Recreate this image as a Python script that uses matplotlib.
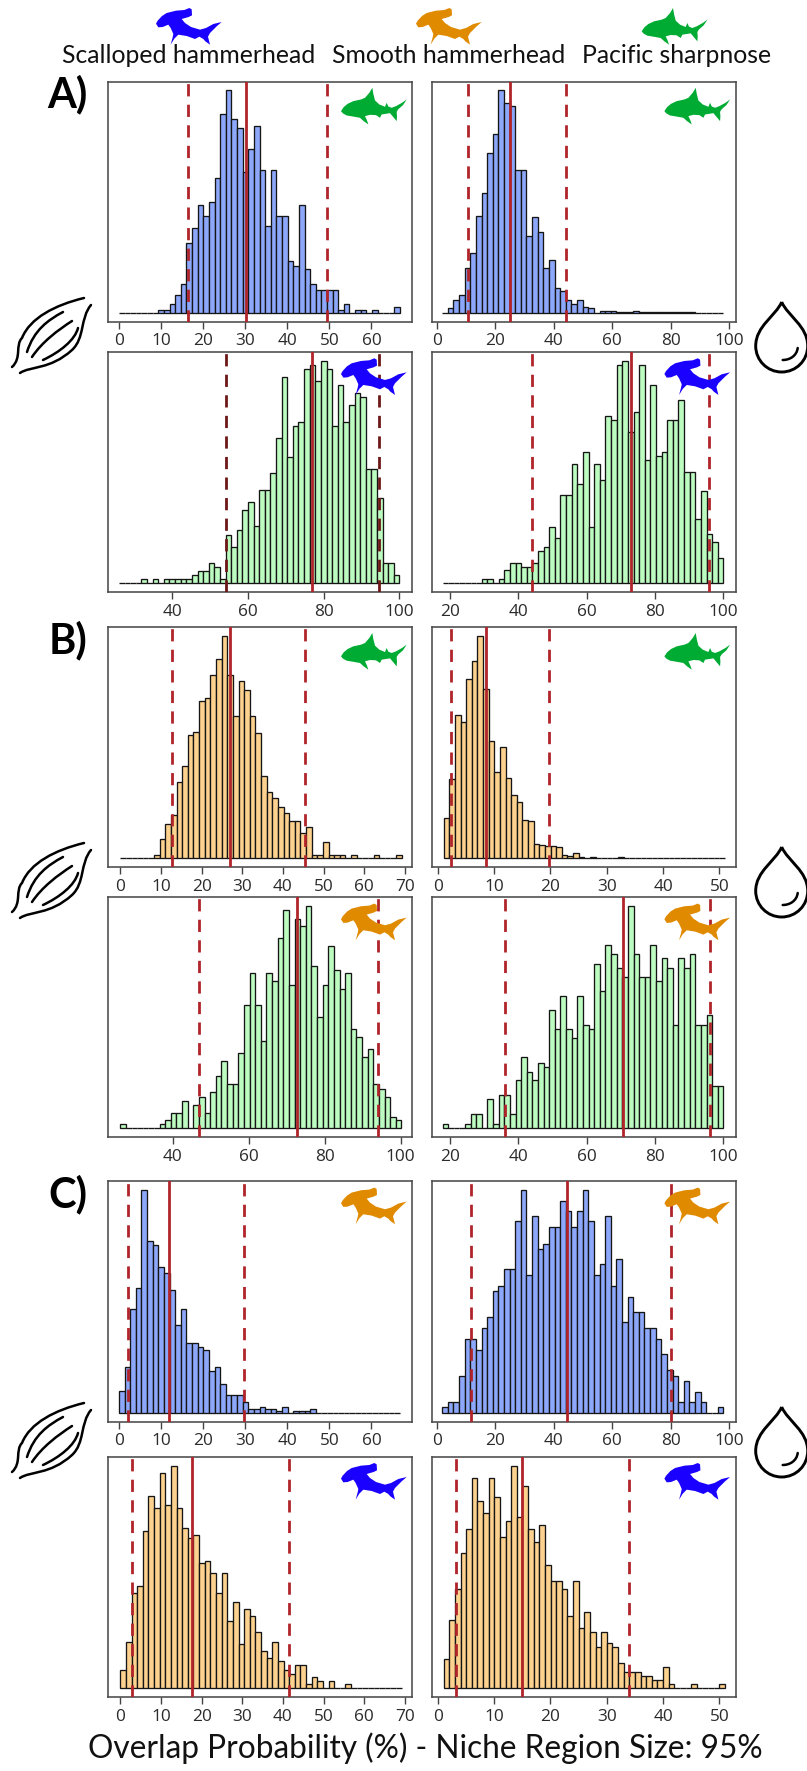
import numpy as np
import matplotlib
matplotlib.use("Agg")
import matplotlib.pyplot as plt
from matplotlib.path import Path
from matplotlib.patches import PathPatch

W, H = 807, 1771

# ---------------- data: bar heights of every histogram (50 bins, relative frequency) ----------------
a1_counts = [0,0,0,0,0,0,0,9,9,25,53,85,207,252,321,289,329,402,594,663,577,550,419,487,557,427,260,427,289,289,
             155,139,320,132,85,69,69,69,69,9,25,0,9,9,0,9,0,0,0,17]
a2_counts = [0,0,0,0,11,0,11,0,11,11,11,11,11,24,36,36,60,48,11,145,109,158,219,243,170,279,279,329,435,617,
             378,471,484,642,655,606,666,642,471,593,484,533,569,557,341,341,256,60,60,24]
a3_counts = [0,13,38,53,135,178,289,358,476,534,664,627,618,427,427,228,285,240,135,159,73,65,37,25,37,17,13,0,5,5,
             5,2,2,2,5,2,2,2,2,2,2,2,2,2,2,0,0,0,0,0]
a4_counts = [0,0,0,0,0,0,0,13,13,0,13,39,61,61,49,49,61,98,110,168,135,265,265,359,298,395,168,359,310,501,
             490,656,668,453,513,656,371,595,383,395,490,490,550,334,334,193,277,147,123,74]
b1_counts = [0,0,0,0,0,0,8,57,102,127,228,273,367,375,469,476,545,594,663,545,423,529,501,423,374,245,196,180,151,135,
             110,110,74,94,8,8,49,8,8,8,0,8,0,0,0,8,0,0,0,8]
b2_counts = [119,235,427,406,533,586,663,504,349,256,330,239,188,167,114,110,41,39,35,36,32,8,5,16,4,0,4,0,0,0,
             0,4,0,0,0,0,0,0,0,0,0,0,0,0,0,0,0,0,0,0]
b3_counts = [13,0,0,0,0,0,0,13,25,45,45,82,0,70,94,45,107,156,200,131,131,225,367,465,367,261,465,440,570,652,
             428,627,606,664,485,331,428,545,473,416,464,298,273,212,236,131,118,94,34,25]
b4_counts = [12,0,0,0,12,41,41,0,86,12,98,98,41,143,213,167,143,196,184,355,298,395,298,269,395,310,298,493,412,550,
             521,481,452,665,521,452,452,550,440,509,481,310,509,481,523,310,310,338,127,127]
c1_counts = [65,138,309,371,664,513,500,436,418,366,261,309,208,208,196,188,126,138,85,53,53,53,33,12,12,16,12,12,4,16,
             0,4,4,4,12,0,0,0,0,0,0,0,0,0,0,0,0,0,0,0]
c2_counts = [16,32,32,110,219,219,187,252,285,362,378,427,427,570,663,410,585,488,504,553,553,631,602,553,602,663,570,410,443,585,
             378,459,269,346,301,301,252,252,219,174,127,110,32,94,32,61,32,0,0,16]
c3_counts = [54,139,285,306,473,578,541,647,549,668,541,481,452,460,375,383,346,285,346,200,257,131,237,217,168,111,90,139,82,54,
             41,69,69,13,33,21,0,21,0,0,12,0,0,0,0,0,0,0,0,0]
c4_counts = [86,204,297,407,477,631,563,526,631,574,453,501,668,513,608,477,440,489,371,322,322,298,216,322,180,228,167,123,167,135,
             123,74,49,49,49,37,37,25,25,62,12,0,0,0,12,0,0,0,0,12]

# histogram ranges (first and last bin edge)
a1_range, a2_range, a3_range, a4_range = (0, 66.8), (26.0, 100), (1.9, 98), (17.9, 100)
b1_range, b2_range, b3_range, b4_range = (0, 69.2), (1.06, 51), (26.1, 100.2), (17.9, 100)
c1_range, c2_range, c3_range, c4_range = (0, 66.8), (1.9, 98), (0, 69.2), (1.06, 51)

# quantile lines: lower dashed, solid mean, upper dashed
a1_lines, a2_lines, a3_lines, a4_lines = (16.4, 30.2, 49.4), (54.25, 76.9, 94.7), (10.7, 25.1, 44.1), (44.2, 73.1, 95.7)
b1_lines, b2_lines, b3_lines, b4_lines = (12.6, 27.05, 45.4), (2.3, 8.6, 19.7), (46.85, 72.6, 94.1), (36.2, 70.8, 96.1)
c1_lines, c2_lines, c3_lines, c4_lines = (2.2, 11.9, 29.7), (11.6, 44.7, 80.0), (2.95, 17.7, 41.6), (3.2, 15.0, 34.0)

# tick values
ticks_60 = [0, 10, 20, 30, 40, 50, 60]
ticks_70 = [0, 10, 20, 30, 40, 50, 60, 70]
ticks_100 = [0, 20, 40, 60, 80, 100]
ticks_40 = [40, 60, 80, 100]
ticks_20 = [20, 40, 60, 80, 100]
ticks_50 = [0, 10, 20, 30, 40, 50]

species_labels = ["Scalloped hammerhead", "Smooth hammerhead", "Pacific sharpnose"]
panel_letters = ["A)", "B)", "C)"]
xlabel_text = "Overlap Probability (%) - Niche Region Size: 95%"

BLUE, GREEN, ORANGE = "#8da8fb", "#bdfcc0", "#fdd28f"
ICON_BLUE, ICON_ORANGE, ICON_GREEN = "#1a00ff", "#e08a00", "#00ab33"
RED = "#b0242a"
DARK = "#6e1717"

L_X, R_X = (108.0, 412.3), (431.7, 735.7)
ROWS = [(81.5, 321.7), (352.0, 592.0), (626.7, 867.0), (897.3, 1137.0), (1181.3, 1421.7), (1456.7, 1697.0)]

panels = [
    (L_X, ROWS[0], a1_counts, a1_range, a1_lines, ticks_60, (-2.6, 69.7), BLUE, "shark", ICON_GREEN, RED),
    (R_X, ROWS[0], a3_counts, a3_range, a3_lines, ticks_100, (-1.7, 102.3), BLUE, "shark", ICON_GREEN, RED),
    (L_X, ROWS[1], a2_counts, a2_range, a2_lines, ticks_40, (23.1, 103.4), GREEN, "hammer", ICON_BLUE, DARK),
    (R_X, ROWS[1], a4_counts, a4_range, a4_lines, ticks_20, (14.74, 103.6), GREEN, "hammer", ICON_BLUE, RED),
    (L_X, ROWS[2], b1_counts, b1_range, b1_lines, ticks_70, (-3.03, 71.8), ORANGE, "shark", ICON_GREEN, RED),
    (R_X, ROWS[2], b2_counts, b2_range, b2_lines, ticks_50, (-1.07, 52.9), ORANGE, "shark", ICON_GREEN, RED),
    (L_X, ROWS[3], b3_counts, b3_range, b3_lines, ticks_40, (22.87, 103.07), GREEN, "hammer", ICON_ORANGE, RED),
    (R_X, ROWS[3], b4_counts, b4_range, b4_lines, ticks_20, (14.74, 103.6), GREEN, "hammer", ICON_ORANGE, RED),
    (L_X, ROWS[4], c1_counts, c1_range, c1_lines, ticks_60, (-2.6, 69.7), BLUE, "hammer", ICON_ORANGE, RED),
    (R_X, ROWS[4], c2_counts, c2_range, c2_lines, ticks_100, (-1.7, 102.3), BLUE, "hammer", ICON_ORANGE, RED),
    (L_X, ROWS[5], c3_counts, c3_range, c3_lines, ticks_70, (-3.03, 71.8), ORANGE, "hammer", ICON_BLUE, RED),
    (R_X, ROWS[5], c4_counts, c4_range, c4_lines, ticks_50, (-1.07, 52.9), ORANGE, "hammer", ICON_BLUE, RED),
]

plt.rcParams["font.family"] = ["Lato", "DejaVu Sans"]
fig = plt.figure(figsize=(W / 100, H / 100), dpi=100, facecolor="white")


def add_panel(xpx, ypx, counts, rng, lines, ticks, xlim, color, line_color):
    ax = fig.add_axes([xpx[0] / W, 1 - ypx[1] / H, (xpx[1] - xpx[0]) / W, (ypx[1] - ypx[0]) / H])
    counts = np.asarray(counts, float)
    edges = np.linspace(rng[0], rng[1], len(counts) + 1)
    ax.bar(edges[:-1], counts, width=np.diff(edges), align="edge", color=color,
           edgecolor="#151515", linewidth=0.95, zorder=2)
    top = counts.max()
    ax.set_ylim(-0.04 * top, 1.04 * top)
    ax.set_xlim(*xlim)
    ax.set_yticks([])
    ax.set_xticks(ticks)
    ax.set_xticklabels([str(t) for t in ticks], fontsize=12.4, color="#2b2b2b", family=["Open Sans", "DejaVu Sans"])
    ax.tick_params(axis="x", length=4.8, width=1.0, color="#444444", pad=3.5)
    for s in ax.spines.values():
        s.set_color("#4a4a4a")
        s.set_linewidth(1.15)
    ax.axvline(lines[1], color=RED, lw=2.0, zorder=4)
    for v in (lines[0], lines[2]):
        ax.axvline(v, color=line_color, lw=2.0, zorder=3, dashes=(4.4, 3.0))
    return ax


for xpx, ypx, counts, rng, lines, ticks, xlim, color, _, _, lc in panels:
    add_panel(xpx, ypx, counts, rng, lines, ticks, xlim, color, lc)

# ---------------- overlay in pixel coordinates for silhouettes and labels ----------------
ov = fig.add_axes([0, 0, 1, 1], zorder=10)
ov.set_xlim(0, W)
ov.set_ylim(H, 0)
ov.axis("off")
ov.patch.set_alpha(0)

SHARK = np.array([(0,70),(8,58),(20,48),(37,40),(60,35),(72,30),(85,15),(94,0),(97,18),(102,38),(115,50),(132,57),
                  (137,45),(142,56),(152,60),(165,55),(183,45),(197,35),(186,52),(172,64),(167,72),
                  (168,86),(167,100),(157,88),(147,76),(135,78),(122,80),(117,90),(105,82),(87,81),(72,85),(78,98),
                  (82,110),(68,100),(57,90),(35,86),(17,83),(6,77)]) / 3.0
HAMMER = np.array([(0,47),(5,38),(18,24),(32,15),(60,8),(85,6),(100,0),(107,4),(108,22),(98,27),(77,33),(87,45),
                   (105,57),(132,65),(150,60),(172,48),(197,42),(182,55),(162,75),(156,86),(162,110),
                   (148,100),(142,93),(130,86),(117,93),(92,84),(67,80),(55,92),(44,110),(50,88),(52,78),
                   (44,60),(37,50),(20,57),(7,58)]) / 3.0


def icon(kind, x, y, color):
    pts = (SHARK if kind == "shark" else HAMMER) + (x, y)
    ov.fill(pts[:, 0], pts[:, 1], color=color, lw=0)


for xpx, ypx, _, _, _, _, _, _, kind, col, _ in panels:
    icon(kind, xpx[1] - 71.3, ypx[0] + 6.3, col)

icon("hammer", 156, 8, ICON_BLUE)
icon("hammer", 416, 8, ICON_ORANGE)
icon("shark", 641.7, 8, ICON_GREEN)

for txt, x in zip(species_labels, (61.5, 331.5, 581.5)):
    ov.text(x, 63, txt, fontsize=17.8, ha="left", va="baseline", color="#111111")
for txt, y in zip(panel_letters, (107, 653, 1207)):
    ov.text(87, y, txt, fontsize=30, fontweight="bold", ha="right", va="baseline", color="black")
ov.text(88, 1758, xlabel_text, fontsize=22.8, ha="left", va="baseline", color="#111111")

C3, M = Path.CURVE4, Path.MOVETO
MUSCLE = [
    [(12,367),(22,358),(15,345),(22,338),(30,318),(55,305),(84,298)],
    [(20,373),(30,366),(50,370),(72,350),(85,338),(80,318),(91,305)],
    [(63,312),(48,320),(34,330),(27,352)],
    [(72,321),(58,330),(42,342),(32,357)],
    [(78,328),(75,340),(60,352),(43,360)],
]


def muscle(dy):
    for seg in MUSCLE:
        codes = [M] + [C3] * (len(seg) - 1)
        pts = [(x, y + dy) for x, y in seg]
        ov.add_patch(PathPatch(Path(pts, codes), fc="none", ec="black", lw=1.8, capstyle="round"))


DROP_PTS = [(0,0),(-6,14),(-26,24),(-26,44),(-26,58.4),(-14.4,70),(0,70),(14.4,70),(26,58.4),(26,44),(26,24),(6,14),(0,0)]
SHINE_PTS = [(1,58),(8,58),(15,54),(16,46)]


def drop(x, y):
    ov.add_patch(PathPatch(Path([(x + a, y + b) for a, b in DROP_PTS], [M] + [C3] * 12),
                           fc="none", ec="black", lw=2.1, joinstyle="miter"))
    ov.add_patch(PathPatch(Path([(x + a, y + b) for a, b in SHINE_PTS], [M] + [C3] * 3),
                           fc="none", ec="black", lw=1.8, capstyle="round"))


for dy in (0, 545, 1105):
    muscle(dy)
for y in (302, 847, 1407):
    drop(781.7, y)

fig.savefig("out.png", dpi=100, facecolor="white")
